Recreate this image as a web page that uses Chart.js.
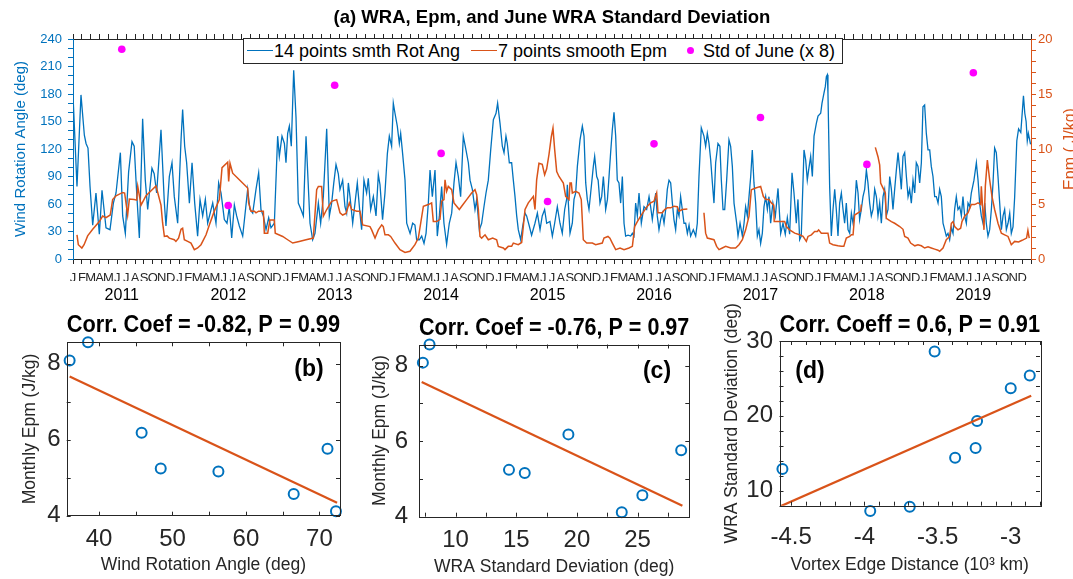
<!DOCTYPE html>
<html>
<head>
<meta charset="utf-8">
<script src="https://cdn.jsdelivr.net/npm/chart.js@4.4.1/dist/chart.umd.min.js"></script>
<style>
  html, body { margin: 0; padding: 0; background: #fff; }
  #page { position: relative; width: 1073px; height: 579px; overflow: hidden; font-family: "Liberation Sans", Arial, sans-serif; }
  canvas { position: absolute; }
  #legend { position: absolute; left: 243px; top: 38px; width: 600px; height: 26px; border: 1px solid #262626;
            background: #fff; box-sizing: border-box; font-size: 18px; color: #000; }
  #legend span { position: absolute; top: 0; line-height: 24px; white-space: nowrap; }
  #legend .sw { position: absolute; top: 11px; height: 0; border-top: 1.6px solid; }
  #legend .dot { position: absolute; top: 8px; width: 7px; height: 7px; border-radius: 50%; background: #ff00ff; }
</style>
</head>
<body>
<div id="page">
  <canvas id="topChart" width="1073" height="306" style="left:0;top:0"></canvas>
  <canvas id="panelB" width="360" height="279" style="left:0;top:300px"></canvas>
  <canvas id="panelC" width="360" height="279" style="left:360px;top:300px"></canvas>
  <canvas id="panelD" width="353" height="279" style="left:720px;top:300px"></canvas>
  <div id="legend">
    <div class="sw" style="left:3px;width:26px;border-color:#0072BD"></div>
    <span style="left:30px">14 points smth Rot Ang</span>
    <div class="sw" style="left:227px;width:26px;border-color:#D95319"></div>
    <span style="left:254px">7 points smooth Epm</span>
    <div class="dot" style="left:443px"></div>
    <span style="left:459px">Std of June (x 8)</span>
  </div>
</div>
<script>
// x of the top panel = months since Jan 2011
const years = [2011, 2012, 2013, 2014, 2015, 2016, 2017, 2018, 2019];
const monthLetters = ['J', 'F', 'M', 'A', 'M', 'J', 'J', 'A', 'S', 'O', 'N', 'D'];

// 14 points smoothed wind rotation angle (deg): [month, value]
const wra2011 = [[0.0,179],[0.45,79],[0.9,179],[1.28,135],[1.47,126],[1.69,121],[1.92,79],[2.22,37],[2.59,72],[2.97,27],[3.27,75],[3.72,34],[4.17,32],[4.55,61],[4.85,72],[5.34,116],[5.6,47],[5.9,28],[6.27,95],[6.65,128],[6.9,123],[7.18,72],[7.48,23],[7.85,153],[8.15,86],[8.42,54],[8.9,99],[9.15,93],[9.43,72],[9.92,141],[10.3,61],[10.48,36],[10.86,90],[11.16,105],[11.42,68],[11.8,39]];
const wra2012 = [[12.18,130],[12.36,163],[12.59,123],[12.81,105],[13.12,61],[13.42,105],[13.72,61],[14.05,25],[14.32,65],[14.62,47],[14.92,65],[15.18,39],[15.75,61],[16.12,39],[16.42,83],[16.69,72],[17.06,43],[17.36,39],[17.62,57],[17.89,23],[18.19,59],[18.45,47],[18.75,36],[19.13,25],[19.69,76],[19.95,54],[20.26,50],[20.63,76],[20.93,94],[21.19,54],[21.46,47],[21.76,32],[22.06,45],[22.32,34],[22.7,39],[23.07,134],[23.26,112],[23.56,134],[23.83,126]];
const wra2013 = [[24.01,105],[24.2,137],[24.39,145],[24.61,123],[24.88,206],[25.14,155],[25.4,61],[25.7,54],[25.97,47],[26.27,134],[26.72,39],[27.02,21],[27.28,28],[27.66,61],[27.92,39],[28.22,68],[28.6,142],[28.9,47],[29.16,61],[29.4,83],[29.65,103],[29.91,93],[30.1,76],[30.4,86],[30.66,57],[30.85,50],[31.04,83],[31.23,68],[31.53,39],[31.79,61],[32.05,83],[32.35,50],[32.54,32],[32.8,86],[33.1,72],[33.29,88],[33.56,54],[33.86,68],[34.16,47],[34.42,92],[34.61,81],[34.9,43],[35.17,72],[35.44,115],[35.66,134],[35.92,123]];
const wra2014 = [[36.11,170],[36.3,159],[36.56,145],[36.79,126],[36.94,137],[37.16,115],[37.43,86],[37.62,39],[38.0,28],[38.29,39],[38.55,37],[38.74,21],[39.04,21],[39.31,25],[39.57,17],[39.8,28],[40.06,61],[40.25,97],[40.51,68],[40.81,97],[41.07,25],[41.3,47],[41.56,79],[41.82,39],[42.12,16],[42.42,39],[42.69,50],[42.95,83],[43.18,105],[43.44,90],[43.7,68],[44.0,134],[44.3,119],[44.57,105],[44.76,86],[45.02,76],[45.32,54],[45.51,65],[45.81,32],[46.07,39],[46.33,57],[46.56,72],[46.82,86],[47.09,119],[47.39,152],[47.69,159],[47.87,170]];
const wra2015 = [[48.14,148],[48.4,123],[48.59,116],[48.81,134],[48.96,126],[49.19,105],[49.45,105],[49.64,86],[49.83,68],[50.02,47],[50.2,32],[50.47,21],[50.7,36],[50.96,50],[51.14,47],[51.44,36],[51.7,26],[52.08,39],[52.35,50],[52.65,32],[52.9,47],[53.17,54],[53.4,39],[53.77,41],[54.04,25],[54.3,39],[54.6,57],[54.9,39],[55.16,28],[55.43,54],[55.65,65],[55.73,81],[56.03,28],[56.29,39],[56.48,65],[56.67,72],[56.86,101],[57.16,130],[57.42,145],[57.61,134],[57.8,83],[57.98,65],[58.17,54],[58.36,72],[58.66,101],[58.81,112],[59.04,90],[59.2,86],[59.41,61],[59.6,68],[59.79,90],[59.9,76]];
const wra2016 = [[60.05,54],[60.25,65],[60.43,90],[60.61,116],[60.8,141],[60.99,160],[61.18,134],[61.36,86],[61.55,83],[61.74,61],[61.93,90],[62.12,39],[62.3,25],[62.57,26],[62.87,25],[63.06,28],[63.24,25],[63.43,61],[63.62,47],[63.81,72],[64.07,39],[64.37,57],[64.67,54],[64.94,68],[65.12,57],[65.31,43],[65.5,57],[65.69,72],[65.87,47],[66.06,32],[66.25,43],[66.44,50],[66.63,39],[66.82,54],[67.0,76],[67.19,86],[67.38,83],[67.57,61],[67.75,43],[67.94,32],[68.13,54],[68.32,47],[68.5,68],[68.69,54],[68.88,39],[69.07,39],[69.26,28],[69.45,37],[69.63,25],[69.93,32],[70.2,25],[70.38,39],[70.57,90],[70.83,143],[71.13,134],[71.32,123],[71.51,137],[71.7,126],[71.89,108]];
const wra2017 = [[72.08,83],[72.26,61],[72.45,105],[72.71,126],[72.93,123],[73.09,86],[73.28,54],[73.47,54],[73.69,86],[73.95,130],[74.14,123],[74.33,101],[74.52,61],[74.82,39],[74.97,25],[75.2,39],[75.46,25],[75.65,39],[75.83,57],[76.02,47],[76.21,68],[76.4,90],[76.58,119],[76.77,83],[76.96,61],[77.15,25],[77.33,32],[77.52,17],[77.71,28],[77.9,57],[78.09,68],[78.28,54],[78.46,68],[78.65,39],[78.9,61],[79.18,47],[79.48,77],[79.78,28],[80.04,39],[80.3,27],[80.53,45],[80.79,27],[81.06,94],[81.28,72],[81.54,39],[81.73,65],[81.92,21],[82.1,25],[82.41,119],[82.6,108],[82.78,86],[82.93,97],[83.16,112],[83.35,90],[83.54,134],[83.8,148]];
const wra2018 = [[83.99,156],[84.29,159],[84.44,170],[84.66,181],[84.81,188],[84.93,199],[85.04,201],[85.11,181],[85.3,79],[85.49,25],[85.68,54],[85.87,76],[86.05,54],[86.24,25],[86.43,61],[86.62,72],[86.81,54],[86.99,39],[87.18,61],[87.37,32],[87.56,28],[87.75,50],[87.94,39],[88.12,54],[88.31,86],[88.5,72],[88.68,43],[88.87,54],[89.06,68],[89.25,76],[89.44,97],[89.62,83],[89.81,61],[90.0,47],[90.19,54],[90.38,76],[90.57,68],[90.75,47],[90.94,61],[91.13,39],[91.32,68],[91.5,76],[91.69,47],[91.88,54],[92.07,90],[92.26,76],[92.44,54],[92.63,76],[92.82,97],[93.01,116],[93.2,97],[93.38,76],[93.57,112],[93.76,116],[93.95,90],[94.14,68],[94.32,76],[94.51,61],[94.7,86],[94.89,72],[95.07,105],[95.26,101],[95.45,83],[95.64,105],[95.82,166]];
const wra2019 = [[96.01,168],[96.2,137],[96.39,119],[96.58,119],[96.76,101],[96.95,90],[97.14,68],[97.33,68],[97.52,61],[97.7,76],[97.89,68],[98.08,39],[98.27,32],[98.45,25],[98.64,28],[98.83,21],[99.02,34],[99.21,28],[99.39,54],[99.58,68],[99.77,54],[99.96,57],[100.15,47],[100.33,68],[100.52,47],[100.71,39],[100.9,61],[101.09,57],[101.27,72],[101.57,86],[101.84,105],[102.03,86],[102.21,61],[102.4,47],[102.59,39],[102.78,61],[102.96,39],[103.15,25],[103.34,32],[103.53,54],[103.72,83],[103.9,121],[104.09,116],[104.28,90],[104.47,61],[104.66,32],[104.85,47],[105.03,54],[105.22,32],[105.41,39],[105.6,50],[105.78,28],[105.97,35],[106.16,68],[106.4,129],[106.6,142],[106.85,138],[107.15,178],[107.3,159],[107.45,150],[107.58,129],[107.7,137],[107.95,125]];

// 7 points smoothed Epm (J/kg), three pieces with gaps between them
const epmPart1 = [[0.45,2.2],[0.6,1.3],[1.0,1.0],[1.25,1.3],[1.65,2.1],[2.22,2.7],[2.97,3.4],[3.34,3.9],[3.72,3.75],[4.2,4.0],[4.47,5.4],[4.85,5.75],[5.6,6.05],[5.82,6.0],[6.16,4.0],[6.35,5.45],[6.9,5.4],[7.18,5.35],[7.3,6.6],[7.67,4.9],[8.23,5.75],[8.8,6.2],[9.36,6.65],[9.66,5.7],[9.92,4.9],[10.1,3.3],[10.3,2.05],[10.6,2.1],[10.86,1.9],[11.42,1.75],[11.6,1.6],[11.9,1.9],[12.18,2.7],[12.36,2.8],[12.55,1.75],[12.93,1.6],[13.3,1.45],[13.68,0.85],[14.05,1.0],[14.43,1.3],[15.0,2.2],[15.37,3.1],[15.93,4.35],[16.5,5.4],[16.8,8.3],[17.44,8.8],[17.55,7.05],[17.7,8.7],[18.0,7.8],[18.75,7.2],[19.69,6.45],[19.8,5.1],[20.07,4.35],[20.45,4.35],[20.63,4.2],[20.93,4.35],[21.46,4.35],[21.57,2.35],[21.95,2.35],[22.2,3.55],[22.7,3.55],[22.8,2.35],[23.64,2.05],[24.2,1.75],[24.77,1.45],[25.5,1.6],[26.27,1.75],[27.09,1.9],[27.47,6.3],[27.66,6.6],[28.03,6.6],[28.22,3.9],[28.6,4.5],[29.16,5.25],[29.72,5.4],[30.1,4.2],[30.4,4.0],[30.78,4.15],[31.15,5.1],[31.41,4.5],[31.98,4.35],[32.35,4.35],[32.66,3.1],[33.48,2.95],[33.67,2.65],[34.05,1.9],[34.42,2.65],[34.8,3.1],[34.98,2.95],[35.17,2.2],[35.55,2.2],[35.81,2.05],[36.3,1.45],[36.86,0.85],[37.43,0.6],[37.99,0.7],[38.55,1.3],[38.93,1.9],[39.5,4.8],[40.06,4.95],[40.43,5.1],[40.62,3.4],[41.0,3.4],[41.37,3.6],[41.56,5.25],[41.82,5.4],[41.94,7.2],[42.12,6.15],[42.31,6.6],[42.69,6.3],[42.95,5.1],[43.25,4.8],[43.55,4.5],[43.82,4.8],[44.38,5.4],[44.94,6.0],[45.32,6.3],[45.51,5.85],[45.7,4.5],[45.88,2.05],[46.07,1.9],[46.45,2.2],[46.82,1.75],[47.31,1.9],[47.76,1.75],[47.95,1.15],[48.51,1.0],[48.7,0.85],[49.07,1.15],[49.45,1.15],[49.64,1.45],[50.2,1.3],[50.58,1.5],[50.96,4.5],[51.33,5.1],[51.9,5.7],[52.08,4.5],[52.27,7.2],[52.53,8.7],[52.9,8.6],[53.17,7.65],[53.4,8.2],[53.66,9.5],[53.92,11.1],[54.11,11.9],[54.3,9.95],[54.53,7.95],[54.79,7.5],[55.28,6.9],[55.54,5.7],[55.92,5.4],[56.03,6.9],[56.18,6.9],[56.29,6.0],[56.67,6.15],[57.04,6.0],[57.3,5.4],[57.53,1.75],[57.91,1.45],[58.55,1.45],[58.92,1.3],[59.67,1.45],[59.86,1.9],[60.31,2.05],[60.53,1.9],[60.8,1.45],[61.18,0.85],[61.67,1.0],[62.12,0.85],[62.68,1.0],[63.06,1.15],[63.32,2.95],[63.62,3.4],[63.99,3.9],[64.37,4.35],[64.75,4.8],[65.12,5.1],[65.5,5.25],[65.8,6.0],[65.95,4.2],[66.44,4.2],[66.7,4.5],[67.0,4.65],[67.38,4.65],[67.75,4.8],[68.13,4.75],[68.32,4.35],[68.69,4.5],[69.26,4.55]];
const epmPart2 = [[71.13,4.2],[71.32,2.35],[71.51,1.9],[72.26,1.75],[72.56,1.15],[72.83,0.85],[73.2,1.0],[73.58,1.15],[74.14,1.0],[74.7,1.0],[75.08,1.3],[75.46,1.75],[75.83,2.65],[76.21,3.9],[76.47,6.3],[76.96,6.45],[77.52,6.6],[77.82,5.7],[78.09,5.4],[78.46,5.4],[78.73,5.1],[79.0,4.9],[79.05,3.4],[80.23,3.4],[80.42,2.95],[80.79,2.65],[81.36,2.35],[81.92,2.2],[82.3,2.05],[82.67,1.6],[82.86,2.05],[83.24,2.2],[83.61,2.5],[83.91,2.5],[84.06,2.65],[84.36,2.35],[85.11,2.35],[85.3,1.45],[85.68,1.3],[86.24,1.2],[86.62,1.15],[86.9,1.15],[87.18,1.9],[87.56,2.05],[87.75,2.2],[87.94,2.2],[88.12,4.0],[88.5,4.2],[88.8,4.35],[88.87,4.95]];
const epmPart3 = [[90.45,10.15],[90.75,9.3],[90.94,8.55],[91.05,6.9],[91.32,6.45],[91.58,6.0],[91.69,3.7],[92.26,3.4],[92.63,3.25],[93.2,2.95],[93.57,2.7],[93.76,2.05],[94.13,1.9],[94.43,1.45],[94.9,1.2],[95.26,1.3],[95.64,1.2],[96.01,1.0],[96.39,1.1],[96.76,1.0],[97.14,0.9],[97.52,0.8],[97.7,0.7],[98.08,1.0],[98.45,1.75],[98.83,2.05],[99.02,3.25],[99.21,3.4],[99.39,2.95],[99.77,2.65],[100.07,2.8],[100.22,3.4],[100.52,3.9],[100.9,4.2],[101.27,4.95],[101.65,4.95],[102.03,5.1],[102.33,4.95],[102.4,6.6],[102.7,2.65],[102.85,6.6],[103.08,9.0],[103.34,7.2],[103.6,5.7],[103.9,4.5],[104.28,3.25],[104.66,2.35],[105.03,2.2],[105.41,2.05],[105.78,1.3],[106.16,1.6],[106.6,1.55],[107.0,1.7],[107.5,1.9],[107.65,2.6],[107.8,1.9]];

// June values per year 2011..2019 (no Epm/WRA point for 2018)
const juneStd = [28.6, 7.3, 23.7, 14.4, 7.85, 15.7, 19.3, 12.9, 25.4];
const juneWra = [71.1, 36.0, 72.25, 48.4, 38.5, 56.25, 45.8, null, 66.5];
const juneEpm = [5.76, 8.08, 4.12, 5.24, 8.56, 5.16, 6.18, null, 4.57];
const vortexDist = [-3.52, -3.96, -3.0, -3.38, -3.69, -3.24, -3.23, -4.56, -2.87];

// fitted lines: [x0, y0, x1, y1]
const fitB = [36.0, 7.66, 72.4, 4.34];
const fitC = [7.2, 7.57, 28.7, 4.29];
const fitD = [-4.57, 7.95, -2.86, 22.7];

const BLUE = '#0072BD', ORANGE = '#D95319', MAGENTA = '#FF00FF', AXIS = '#262626';
Chart.defaults.font.family = '"Liberation Sans", Arial, sans-serif';
Chart.defaults.color = AXIS;
Chart.defaults.animation = false;

const toXY = arr => arr.map(([x, y]) => ({ x, y }));
function stepTicks(min, max, step) {
  const out = [];
  for (let k = Math.ceil(min / step - 1e-9); k * step <= max + 1e-9; k++) out.push({ value: +(k * step).toFixed(6) });
  return out;
}
const isMultiple = (v, m) => Math.abs(v / m - Math.round(v / m)) < 1e-6;

// ---------- panel (a) ----------
const wraAll = [wra2011, wra2012, wra2013, wra2014, wra2015, wra2016, wra2017, wra2018, wra2019].flat();
const epmAll = [...toXY(epmPart1), { x: 70, y: null }, ...toXY(epmPart2), { x: 89.5, y: null }, ...toXY(epmPart3)];
const junePts = juneStd.map((s, i) => ({ x: i * 12 + 5.5, y: s * 8 }));

const rightTitle = {
  id: 'rightTitle',
  afterDraw(chart) {
    const { ctx, chartArea } = chart;
    ctx.save();
    ctx.translate(chartArea.right + 40, (chartArea.top + chartArea.bottom) / 2);
    ctx.rotate(-Math.PI / 2);
    ctx.font = '16px "Liberation Sans", Arial, sans-serif';
    ctx.fillStyle = ORANGE;
    ctx.textAlign = 'center';
    ctx.textBaseline = 'middle';
    ctx.fillText('Epm ( J/kg)', 0, 0);
    ctx.restore();
  }
};

const monthTicks = s => { s.ticks = stepTicks(0, 108, 1); };

new Chart(document.getElementById('topChart'), {
  type: 'scatter',
  data: {
    datasets: [
      { label: 'Std of June (x 8)', data: junePts, xAxisID: 'x', yAxisID: 'y', order: 0,
        pointRadius: 3.8, pointBackgroundColor: MAGENTA, pointBorderWidth: 0, showLine: false },
      { label: '7 points smooth Epm', data: epmAll, xAxisID: 'x', yAxisID: 'y2', order: 1,
        showLine: true, pointRadius: 0, borderColor: ORANGE, borderWidth: 1.5, spanGaps: false },
      { label: '14 points smth Rot Ang', data: toXY(wraAll), xAxisID: 'x', yAxisID: 'y', order: 2,
        showLine: true, pointRadius: 0, borderColor: BLUE, borderWidth: 1.3 }
    ]
  },
  options: {
    responsive: false,
    layout: { padding: 0 },
    plugins: {
      legend: { display: false },
      tooltip: { enabled: false },
      title: { display: true, text: '(a) WRA, Epm, and June WRA Standard Deviation', color: '#000', fullSize: false,
               font: { size: 18.5, weight: 'bold' }, padding: { top: 6.8, bottom: 0 } }
    },
    scales: {
      x: { type: 'linear', position: 'bottom', min: 0, max: 108, weight: 0,
           afterBuildTicks: monthTicks,
           ticks: { autoSkip: false, maxRotation: 0, minRotation: 0, padding: 7, font: { size: 13 }, color: AXIS,
                    callback: v => (v < 108 ? monthLetters[v % 12] : '') },
           grid: { drawOnChartArea: false, tickLength: 5, color: AXIS },
           border: { color: AXIS },
           afterFit: s => { s.height = 22; } },
      xYear: { type: 'linear', position: 'bottom', min: 0, max: 108, weight: 1,
           afterBuildTicks: s => { s.ticks = years.map((y, i) => ({ value: i * 12 + 5.5 })); },
           ticks: { autoSkip: false, maxRotation: 0, minRotation: 0, padding: 5, font: { size: 16 }, color: '#000',
                    callback: (v, i) => years[i] },
           grid: { display: false, drawTicks: false },
           border: { display: false },
           afterFit: s => { s.height = 25; } },
      xTop: { type: 'linear', position: 'top', min: 0, max: 108,
           afterBuildTicks: monthTicks,
           ticks: { display: false },
           grid: { drawOnChartArea: false, tickLength: 5, color: AXIS },
           border: { color: AXIS },
           afterFit: s => { s.height = 10; } },
      y: { position: 'left', min: 0, max: 240,
           afterBuildTicks: s => { s.ticks = stepTicks(0, 240, 10); },
           ticks: { autoSkip: false, padding: 6, color: BLUE, font: { size: 13 },
                    callback: v => (isMultiple(v, 30) ? v : '') },
           grid: { drawOnChartArea: false, tickLength: 5, color: BLUE },
           border: { color: BLUE },
           title: { display: true, text: 'Wind Rotation Angle (deg)', color: BLUE, font: { size: 15 }, padding: { top: 12, bottom: 0 } },
           afterFit: s => { s.width = 73; } },
      y2: { position: 'right', min: 0, max: 20,
           afterBuildTicks: s => { s.ticks = stepTicks(0, 20, 1); },
           ticks: { autoSkip: false, padding: 2, color: ORANGE, font: { size: 13 },
                    callback: v => (isMultiple(v, 5) ? v : '') },
           grid: { drawOnChartArea: false, tickLength: 5, color: ORANGE },
           border: { color: ORANGE },
           afterFit: s => { s.width = 42; } }
    }
  },
  plugins: [rightTitle]
});

// ---------- panels (b), (c), (d) ----------
const boxTicks = {
  id: 'boxTicks',
  afterDraw(chart, args, opts) {
    const { ctx, chartArea: a, scales: { x, y } } = chart;
    ctx.save();
    ctx.strokeStyle = AXIS;
    ctx.lineWidth = 1;
    ctx.beginPath();
    x.ticks.forEach(t => {
      const px = Math.round(x.getPixelForValue(t.value)) + 0.5;
      ctx.moveTo(px, a.bottom); ctx.lineTo(px, a.bottom - 4);
      ctx.moveTo(px, a.top); ctx.lineTo(px, a.top + 4);
    });
    y.ticks.forEach(t => {
      const py = Math.round(y.getPixelForValue(t.value)) + 0.5;
      ctx.moveTo(a.left, py); ctx.lineTo(a.left + 4, py);
      ctx.moveTo(a.right, py); ctx.lineTo(a.right - 4, py);
    });
    ctx.stroke();
    ctx.strokeRect(Math.round(a.left) + 0.5, Math.round(a.top) + 0.5, Math.round(a.width), Math.round(a.height));
    if (opts.tag) {
      ctx.font = 'bold 23px "Liberation Sans", Arial, sans-serif';
      ctx.fillStyle = '#000';
      ctx.textAlign = 'center';
      ctx.textBaseline = 'middle';
      ctx.fillText(opts.tag, opts.tagX, opts.tagY);
    }
    ctx.restore();
  }
};

function makePanel(id, p) {
  const pts = [];
  p.xs.forEach((xv, i) => { if (xv != null && p.ys[i] != null) pts.push({ x: xv, y: p.ys[i] }); });
  return new Chart(document.getElementById(id), {
    type: 'scatter',
    data: {
      datasets: [
        { data: [{ x: p.fit[0], y: p.fit[1] }, { x: p.fit[2], y: p.fit[3] }], showLine: true, pointRadius: 0,
          borderColor: ORANGE, borderWidth: 2.2, order: 0 },
        { data: pts, pointRadius: 5, pointBorderWidth: 2, pointBorderColor: BLUE,
          pointBackgroundColor: 'rgba(0,0,0,0)', clip: false, order: 1 }
      ]
    },
    options: {
      responsive: false,
      layout: { padding: { right: p.padRight } },
      plugins: {
        legend: { display: false },
        tooltip: { enabled: false },
        title: { display: true, text: p.title, color: '#000', fullSize: false, font: { size: 24, weight: 'bold' },
                 padding: { top: p.titleMid - 14.4, bottom: p.areaTop - p.titleMid - 14.4 } },
        boxTicks: { tag: p.tag, tagX: p.tagX, tagY: p.tagY }
      },
      scales: {
        x: { type: 'linear', min: p.xMin, max: p.xMax,
             afterBuildTicks: s => { s.ticks = stepTicks(p.xMin, p.xMax, p.xStep); },
             ticks: { autoSkip: false, maxRotation: 0, padding: p.xLabelPad, font: { size: 24 }, color: AXIS,
                      callback: v => (isMultiple(v, p.xLabelStep) ? String(Math.round(v * 10) / 10) : '') },
             grid: { display: false, drawTicks: false },
             border: { display: false },
             title: { display: true, text: p.xTitle, font: { size: 17.5 }, color: AXIS, padding: { top: 0, bottom: p.xTitlePad } },
             afterFit: s => { s.height = p.xHeight; } },
        y: { type: 'linear', min: p.yMin, max: p.yMax,
             afterBuildTicks: s => { s.ticks = stepTicks(p.yMin, p.yMax, p.yStep); },
             ticks: { autoSkip: false, padding: p.yLabelPad, font: { size: 24 }, color: AXIS,
                      callback: v => (isMultiple(v, p.yLabelStep) ? String(Math.round(v)) : '') },
             grid: { display: false, drawTicks: false },
             border: { display: false },
             title: { display: true, text: p.yTitle, font: { size: 17.5 }, color: AXIS, padding: { top: p.yTitlePad, bottom: 0 } },
             afterFit: s => { s.width = p.yWidth; } }
      }
    },
    plugins: [boxTicks]
  });
}

makePanel('panelB', {
  xs: juneWra, ys: juneEpm, fit: fitB, title: 'Corr. Coef = -0.82, P = 0.99', tag: '(b)', tagX: 309, tagY: 70,
  xMin: 35.6, xMax: 72.8, xStep: 5, xLabelStep: 10, yMin: 4, yMax: 8.56, yStep: 1, yLabelStep: 2,
  xTitle: 'Wind Rotation Angle (deg)', yTitle: 'Monthly Epm (J/kg)',
  padRight: 20, yWidth: 66.7, areaTop: 42.3, titleMid: 25, xHeight: 63.3,
  xLabelPad: 8.9, xTitlePad: 3.5, yLabelPad: 6, yTitlePad: 19.5
});
makePanel('panelC', {
  xs: juneStd, ys: juneEpm, fit: fitC, title: 'Corr. Coef = -0.76, P = 0.97', tag: '(c)', tagX: 297, tagY: 72,
  xMin: 6.98, xMax: 29.27, xStep: 2.5, xLabelStep: 5, yMin: 4, yMax: 8.56, yStep: 1, yLabelStep: 2,
  xTitle: 'WRA Standard Deviation (deg)', yTitle: 'Monthly Epm (J/kg)',
  padRight: 30.7, yWidth: 59, areaTop: 44.5, titleMid: 28, xHeight: 62.3,
  xLabelPad: 8.9, xTitlePad: 1.5, yLabelPad: 11, yTitlePad: 9.5
});
makePanel('panelD', {
  xs: vortexDist, ys: juneStd, fit: fitD, title: 'Corr. Coeff = 0.6, P = 0.91', tag: '(d)', tagX: 90, tagY: 72,
  xMin: -4.58, xMax: -2.8, xStep: 0.1, xLabelStep: 0.5, yMin: 8, yMax: 30, yStep: 2, yLabelStep: 10,
  xTitle: 'Vortex Edge Distance (10\u00B3 km)', yTitle: 'WRA Standard Deviation (deg)',
  padRight: 33, yWidth: 59.5, areaTop: 41, titleMid: 25, xHeight: 73.3,
  xLabelPad: 16.9, xTitlePad: 3.5, yLabelPad: 6.5, yTitlePad: 1.5
});
</script>
</body>
</html>
